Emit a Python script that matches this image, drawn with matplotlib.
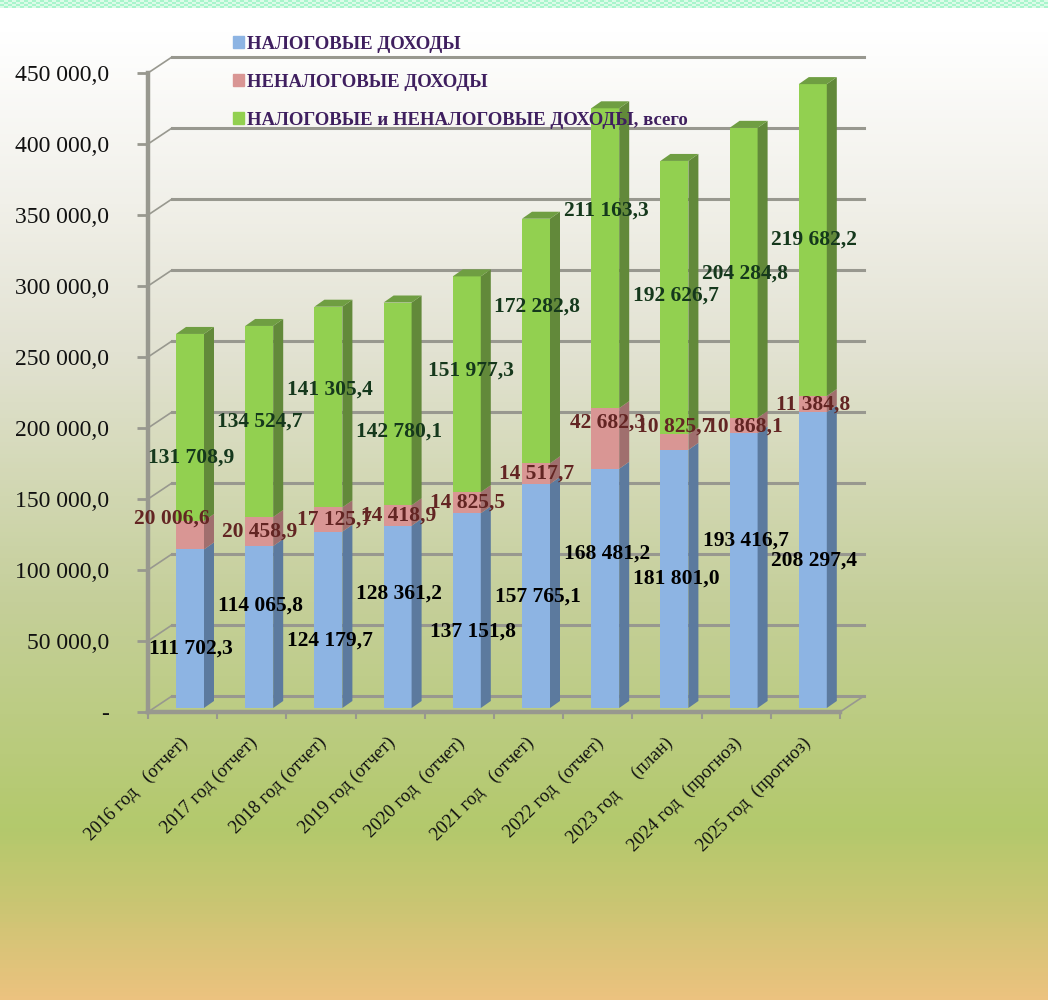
import numpy as np
import matplotlib
matplotlib.use('Agg')
import matplotlib.pyplot as plt
from matplotlib.colors import LinearSegmentedColormap
from matplotlib.patches import Patch

plt.rcParams['font.family'] = ['Liberation Serif', 'DejaVu Serif']

categories = ['2016 год   (отчет)', '2017 год (отчет)', '2018 год (отчет)', '2019 год (отчет)',
              '2020 год  (отчет)', '2021 год   (отчет)', '2022 год  (отчет)', '2023 год     (план)',
              '2024 год  (прогноз)', '2025 год  (прогноз)']
tax = [111702.3, 114065.8, 124179.7, 128361.2, 137151.8, 157765.1, 168481.2, 181801.0, 193416.7, 208297.4]
nontax = [20006.6, 20458.9, 17125.7, 14418.9, 14825.5, 14517.7, 42682.3, 10825.7, 10868.1, 11384.8]
total = [131708.9, 134524.7, 141305.4, 142780.1, 151977.3, 172282.8, 211163.3, 192626.7, 204284.8, 219682.2]
yticks = [0, 50000, 100000, 150000, 200000, 250000, 300000, 350000, 400000, 450000]
ytick_labels = ['-', '50 000,0', '100 000,0', '150 000,0', '200 000,0', '250 000,0',
                '300 000,0', '350 000,0', '400 000,0', '450 000,0']
legend_labels = ['НАЛОГОВЫЕ ДОХОДЫ', 'НЕНАЛОГОВЫЕ ДОХОДЫ', 'НАЛОГОВЫЕ и НЕНАЛОГОВЫЕ ДОХОДЫ, всего']


def fmt(v):
    s = f'{v:,.1f}'
    return s.replace(',', ' ').replace('.', ',')


# label centres in pixels, top left origin
pos_tax = [(191, 649), (260, 606), (330, 641), (399, 594), (473, 632),
           (538, 597), (607, 554), (676, 579), (746, 541), (814, 561)]
pos_nontax = [(172, 519), (260, 532), (335, 520), (399, 516), (468, 503),
              (537, 474), (607, 423), (675, 427), (745, 427), (813, 405)]
pos_total = [(191, 458), (260, 422), (330, 390), (399, 432), (471, 371),
             (537, 307), (606, 211), (676, 296), (745, 274), (814, 240)]

W, H = 1048, 1000
fig = plt.figure(figsize=(W / 100, H / 100), dpi=100)

# background
bg = fig.add_axes([0, 0, 1, 1], zorder=0)
bg.axis('off')
cmap = LinearSegmentedColormap.from_list('bg', [
    (0.0, '#ffffff'), (0.03, '#ffffff'), (0.2, '#f1f0e9'), (0.35, '#e2e2d2'),
    (0.6, '#c5cf9a'), (0.83, '#b3c96c'), (0.9, '#c8c672'), (1.0, '#ecc27f')])
bg.imshow(np.linspace(0, 1, 500).reshape(-1, 1), aspect='auto', cmap=cmap, extent=(0, W, H, 0))
check = (np.indices((4, 262)).sum(axis=0) % 2).astype(float)
mint = LinearSegmentedColormap.from_list('mint', ['#a8f5cc', '#dcfbe8'])
bg.imshow(check, aspect='auto', cmap=mint, extent=(0, W, 8, 0), interpolation='nearest')
bg.set_xlim(0, W)
bg.set_ylim(H, 0)

ax = fig.add_axes([148 / W, 1 - 712 / H, 692 / W, 639 / H], zorder=1)
ax.patch.set_alpha(0)
ax.set_xlim(0, 10)
ax.set_ylim(0, 450000)
for s in ax.spines.values():
    s.set_visible(False)

px_x = 10 / 692
px_y = 450000 / 639
wall_dx, wall_dy = 24 * px_x, 16 * px_y
grid_c = '#98988f'

# back wall and left wall
for v in yticks:
    ax.plot([wall_dx, 10 + wall_dx], [v + wall_dy, v + wall_dy], color=grid_c, lw=2.2,
            clip_on=False, zorder=1)
    ax.plot([0, wall_dx], [v, v + wall_dy], color=grid_c, lw=1.2, clip_on=False, zorder=1)
ax.plot([10, 10 + wall_dx], [0, wall_dy], color=grid_c, lw=1.2, clip_on=False, zorder=1)
ax.plot([0, 10], [0, 0], color=grid_c, lw=3.2, clip_on=False, zorder=2)
ax.plot([0, 0], [0, 450000], color=grid_c, lw=3.2, clip_on=False, zorder=2)

# bars
x = np.arange(10) + 0.5 + 7.4 * px_x
width = 28 * px_x
depth_x, depth_y = 10 * px_x, 7 * px_y
base = 4 * px_y
tax_a = np.array(tax)
nontax_a = np.array(nontax)
total_a = np.array(total)
series = [(tax_a, '#8db4e3', '#5c7a9e', '#6f93bf'),
          (nontax_a, '#d99694', '#a06f6e', '#b98280'),
          (total_a, '#92d050', '#62893a', '#6f9e42')]
bottom = np.full(10, base)
handles = []
for vals, front, side, top in series:
    ax.bar(x, vals, width, bottom=bottom, color=front, zorder=3, clip_on=False)
    for xi, b, v in zip(x, bottom, vals):
        r = xi + width / 2
        ax.fill([r, r + depth_x, r + depth_x, r], [b, b + depth_y, b + v + depth_y, b + v],
                color=side, lw=0, zorder=3, clip_on=False)
    bottom = bottom + vals
    handles.append(Patch(color=front))
# top cap of the stack
for xi, b in zip(x, bottom):
    l, r = xi - width / 2, xi + width / 2
    ax.fill([l, r, r + depth_x, l + depth_x], [b, b, b + depth_y, b + depth_y],
            color=series[2][3], lw=0, zorder=3, clip_on=False)

# axes ticks and labels
ax.set_yticks(yticks, ytick_labels, fontsize=17, color='#111111')
ax.tick_params(axis='y', length=8, width=2, color=grid_c, pad=20)
ax.set_xticks(np.arange(10) + 0.5 - 3 * px_x, categories, fontsize=13.5, rotation=45, ha='right',
              rotation_mode='anchor', color='#111111')
ax.tick_params(axis='x', length=0, pad=16)
ax.set_xticks(np.arange(11), minor=True)
ax.tick_params(axis='x', which='minor', length=5, width=1.5, color=grid_c)


def put_labels(values, positions, color, size):
    for v, (px, py) in zip(values, positions):
        fig.text(px / W, 1 - py / H, fmt(v), ha='center', va='center', fontsize=size,
                 fontweight='bold', color=color, zorder=5)


put_labels(tax, pos_tax, '#000000', 15.5)
put_labels(nontax, pos_nontax, '#632523', 15.5)
put_labels(total, pos_total, '#15381c', 15.5)

leg = fig.legend(handles, legend_labels, loc='upper left', bbox_to_anchor=(233 / W, 1 - 36 / H),
                 frameon=False, fontsize=13.5, labelspacing=1.12, handlelength=0.6, handleheight=0.6,
                 handletextpad=0.15, borderpad=0, borderaxespad=0)
for t in leg.get_texts():
    t.set_color('#3f1f5f')
    t.set_fontweight('bold')
leg.set_zorder(6)

fig.savefig('out.png', dpi=100)
